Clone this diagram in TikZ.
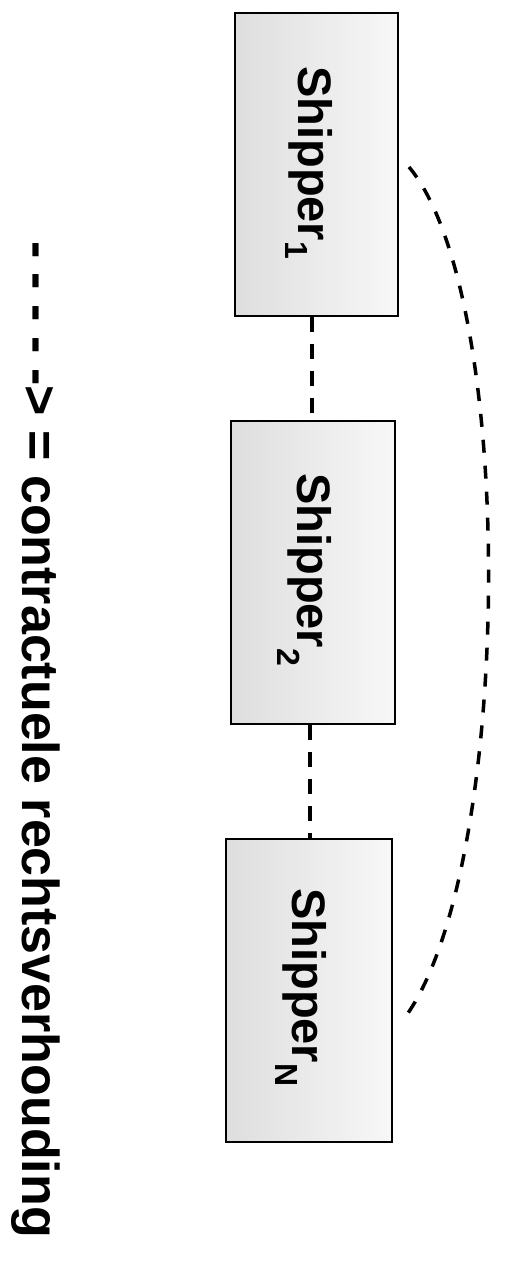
\documentclass[tikz,border=0pt]{standalone}
\usepackage{fontspec}
\setmainfont{Liberation Sans}
\begin{document}
\begin{tikzpicture}[x=1pt,y=-1pt,
  box/.style={draw=black, line width=2pt, rectangle, inner sep=0pt,
    left color=black!13, right color=black!3, shading angle=90},
  lbl/.style={rotate=-90, anchor=base west, inner sep=0pt,
    font=\bfseries\fontsize{47}{50}\selectfont},
  conn/.style={line width=3.5pt, dash pattern=on 15pt off 12pt},
  curv/.style={line width=3.5pt, dash pattern=on 13pt off 13pt},
  legend/.style={rotate=-90, anchor=base west, inner sep=0pt,
    font=\bfseries\fontsize{52}{56}\selectfont}]
\useasboundingbox (0,0) rectangle (505,1265);
\fill[white] (0,0) rectangle (505,1265);
% boxes
\node[box, minimum width=163pt, minimum height=303pt] (b1) at (316.5,164.5) {};
\node[box, minimum width=164pt, minimum height=303pt] (b2) at (313,572.5) {};
\node[box, minimum width=166pt, minimum height=303pt] (bN) at (309,990.5) {};
% labels
\node[lbl] (t1) at (298,66) {Shipper\raisebox{-13pt}{\fontsize{32}{32}\selectfont 1}};
\node[lbl] (t2) at (297,473) {Shipper\raisebox{-20pt}{\fontsize{32}{32}\selectfont 2}};
\node[lbl] (tN) at (292,888) {Shipper\raisebox{-17pt}{\fontsize{32}{32}\selectfont N}};
% connectors
\coordinate (xa) at (312,0);
\coordinate (xb) at (310,0);
\draw[conn] (b1.south -| xa) -- (b2.north -| xa);
\draw[conn] (b2.south -| xb) -- (bN.north -| xb);
\coordinate (cs) at (409,167);
\coordinate (ce) at (403,1020);
\draw[curv] (cs) .. controls (519,299) and (513,877) .. (ce);
% legend
\node[legend] (leg) at (22,241) {- - - - -> = contractuele rechtsverhouding};
\end{tikzpicture}
\end{document}
